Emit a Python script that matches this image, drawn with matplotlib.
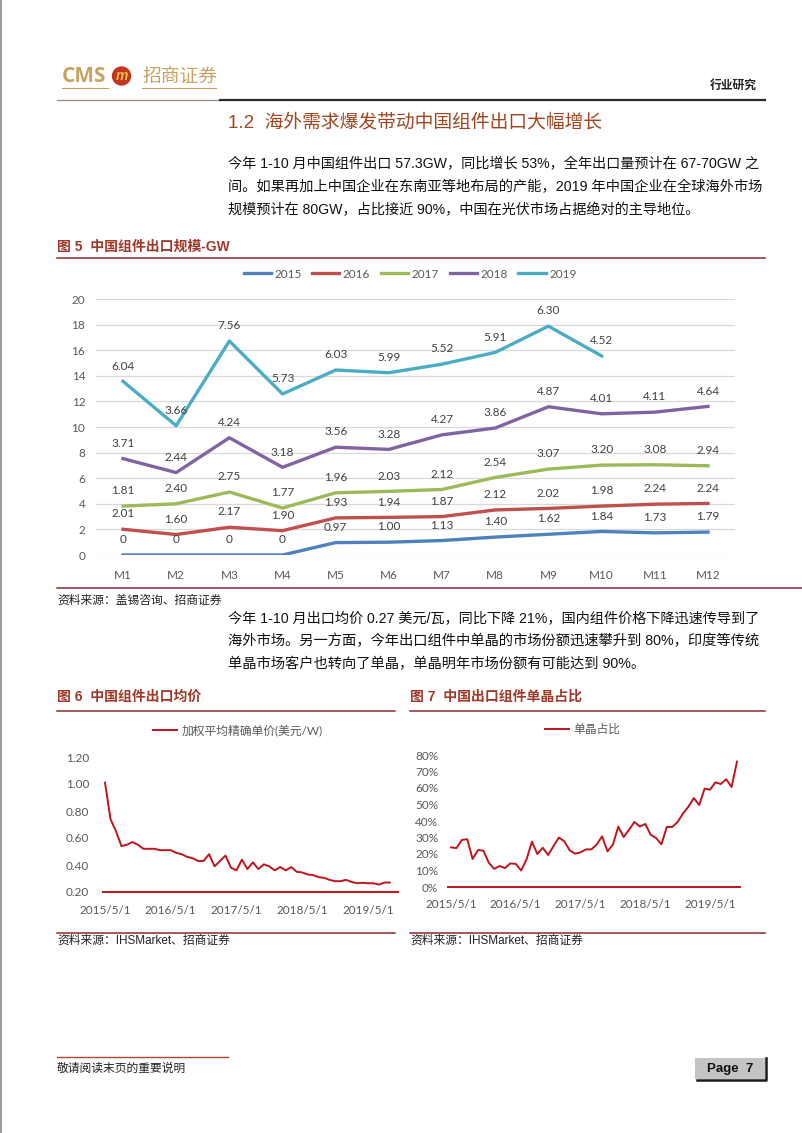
import numpy as np
import pandas as pd
import matplotlib
matplotlib.use('Agg')
import matplotlib.pyplot as plt
from matplotlib.patches import Rectangle, Circle
from matplotlib.lines import Line2D

plt.rcParams['font.family'] = ['Liberation Sans', 'Noto Sans CJK SC']
CHART_FONT = ['Lato', 'Noto Sans CJK SC']

W, H = 802, 1133

# ---- data: figure 5, monthly export (GW), stacked by year
months = ['M1', 'M2', 'M3', 'M4', 'M5', 'M6', 'M7', 'M8', 'M9', 'M10', 'M11', 'M12']
years = ['2015', '2016', '2017', '2018', '2019']
exp_2015 = [0, 0, 0, 0, 0.97, 1.00, 1.13, 1.40, 1.62, 1.84, 1.73, 1.79]
exp_2016 = [2.01, 1.60, 2.17, 1.90, 1.93, 1.94, 1.87, 2.12, 2.02, 1.98, 2.24, 2.24]
exp_2017 = [1.81, 2.40, 2.75, 1.77, 1.96, 2.03, 2.12, 2.54, 3.07, 3.20, 3.08, 2.94]
exp_2018 = [3.71, 2.44, 4.24, 3.18, 3.56, 3.28, 4.27, 3.86, 4.87, 4.01, 4.11, 4.64]
exp_2019 = [6.04, 3.66, 7.56, 5.73, 6.03, 5.99, 5.52, 5.91, 6.30, 4.52]
year_colors = ['#4F81BD', '#C0504D', '#9BBB59', '#8064A2', '#4BACC6']

# ---- data: figure 6, weighted average export price (USD/W), 2015/5 - 2019/9
price = [1.01, 0.74, 0.65, 0.54, 0.55, 0.57, 0.55, 0.52,
         0.52, 0.52, 0.51, 0.51, 0.51, 0.49, 0.48, 0.46, 0.45, 0.43, 0.43, 0.48,
         0.39, 0.43, 0.47, 0.38, 0.36, 0.44, 0.37, 0.42, 0.37, 0.405, 0.39, 0.36,
         0.385, 0.36, 0.385, 0.35, 0.345, 0.33, 0.325, 0.31, 0.305, 0.29, 0.28, 0.28,
         0.29, 0.275, 0.265, 0.268, 0.265, 0.265, 0.255, 0.27, 0.27]
price_start = '2015-05-01'

# ---- data: figure 7, mono-crystalline share (%), 2015/5 - 2019/10
mono_share = [24, 23.6, 28.5, 29, 17, 22.4, 22, 14.7,
              11, 12.7, 11.5, 14.3, 14, 10, 16.8, 27.5, 20, 23.8, 19.4, 24.8,
              30, 27.7, 22.2, 20.2, 21, 22.8, 22.8, 25.7, 30.7, 21.6, 25.7, 36.6,
              30.3, 34.7, 39.4, 36.6, 38.2, 31.7, 29.7, 25.9, 36.4, 36.4, 39.4, 44.6,
              48.7, 53.9, 49.7, 59.6, 59, 63.4, 62.4, 65.3, 60.6, 76]
mono_start = '2015-05-01'

para1 = ['今年 1-10 月中国组件出口 57.3GW，同比增长 53%，全年出口量预计在 67-70GW 之',
         '间。如果再加上中国企业在东南亚等地布局的产能，2019 年中国企业在全球海外市场',
         '规模预计在 80GW，占比接近 90%，中国在光伏市场占据绝对的主导地位。']
para2 = ['今年 1-10 月出口均价 0.27 美元/瓦，同比下降 21%，国内组件价格下降迅速传导到了',
         '海外市场。另一方面，今年出口组件中单晶的市场份额迅速攀升到 80%，印度等传统',
         '单晶市场客户也转向了单晶，单晶明年市场份额有可能达到 90%。']

GOLD = '#C9A262'
CAP = '#A0392A'
RULE = '#8E2A2E'
LINE_RED = '#C0141C'
TICK = '#595959'


def ax_rect(l, t, r, b):
    return [l / W, 1 - b / H, (r - l) / W, (b - t) / H]


fig = plt.figure(figsize=(W / 100, H / 100), dpi=100)
renderer = fig.canvas.get_renderer()
bg = fig.add_axes([0, 0, 1, 1])
bg.set_xlim(0, W)
bg.set_ylim(H, 0)
bg.axis('off')


def paragraph(lines, x0, x1, y0, step, size=10):
    # stretch full lines to the right margin, last line keeps the mean size
    sizes = []
    for i, line in enumerate(lines):
        t = bg.text(x0, y0 + step * i, line, fontsize=size, color='#111111', va='center')
        if i < len(lines) - 1:
            w = t.get_window_extent(renderer).width
            t.set_fontsize(size * (x1 - x0) / w)
            sizes.append(size * (x1 - x0) / w)
        else:
            t.set_fontsize(np.mean(sizes))


# page border and header
bg.plot([0.6, 0.6], [0, H], color='#888888', lw=1.2)
bg.text(62, 77, 'CMS', fontsize=15, color=GOLD, fontweight='bold', va='center', family='Open Sans')
bg.add_patch(Circle((121.5, 76), 9, color='#C4351C'))
bg.text(121.5, 76.5, 'm', fontsize=10, color='#F2C14E', fontweight='bold', style='italic',
        ha='center', va='center')
bg.text(142, 76, '招商证券', fontsize=13.5, color=GOLD, va='center', family='Noto Sans CJK SC')
bg.plot([62, 108], [88, 88], color=GOLD, lw=0.8)
bg.plot([142, 216], [88, 88], color=GOLD, lw=0.8)
bg.text(757, 86, '行业研究', fontsize=8.5, color='#222222', ha='right', va='center', fontweight='bold')
bg.plot([57, 220], [100, 100], color='#9C8C84', lw=0.9)
bg.plot([220, 765], [100, 100], color='#2B2B2B', lw=1.6)

bg.text(228, 123, '1.2  海外需求爆发带动中国组件出口大幅增长', fontsize=13.5, color='#A0461E', va='center')

paragraph(para1, 228, 760, 164, 23)

# figure 5 caption
bg.text(57, 247, '图 5  中国组件出口规模-GW', fontsize=10, color=CAP, fontweight='bold', va='center')
bg.plot([57, 765], [258, 258], color=RULE, lw=1.1)

ax = fig.add_axes(ax_rect(96.4, 299, 734.6, 555))
x = np.arange(len(months))
base = np.zeros(len(months))
handles = []
for yr, vals, col in zip(years, [exp_2015, exp_2016, exp_2017, exp_2018, exp_2019], year_colors):
    v = np.array(vals, dtype=float)
    n = len(v)
    top = base[:n] + v
    ln, = ax.plot(x[:n], top, color=col, lw=2.4, label=yr, solid_joinstyle='round')
    handles.append(ln)
    for xi, yi, val in zip(x[:n], top, v):
        ax.annotate('0' if val == 0 else f'{val:.2f}', (xi, yi), xytext=(0, 11),
                    textcoords='offset points', ha='center', va='center',
                    fontsize=8.5, color='#404040', family=CHART_FONT)
    base[:n] = top
ax.set_xlim(-0.5, len(months) - 0.5)
ax.set_ylim(0, 20)
ax.set_yticks(np.arange(0, 21, 2))
ax.set_xticks(x)
ax.set_xticklabels(months)
ax.grid(axis='y', color='#D9D9D9', lw=0.9)
ax.set_axisbelow(True)
for s in ax.spines.values():
    s.set_visible(False)
ax.tick_params(length=0, labelsize=8.5, colors=TICK)
ax.tick_params(axis='x', pad=11)
ax.tick_params(axis='y', pad=8)
for lab in ax.get_xticklabels() + ax.get_yticklabels():
    lab.set_family(CHART_FONT)
fig.legend(handles=handles, loc='center', bbox_to_anchor=(410 / W, 1 - 274 / H), ncol=5,
           frameon=False, handlelength=2.3, handletextpad=0.3, columnspacing=0.9,
           prop={'family': CHART_FONT, 'size': 8.5}, labelcolor=TICK)

bg.plot([57, W], [588, 588], color=RULE, lw=1.1)
bg.text(57, 601, '资料来源：盖锡咨询、招商证券', fontsize=8.5, color='#222222', va='center')

paragraph(para2, 228, 761, 618, 23)

# figure 6 / 7 captions
bg.text(57, 697, '图 6  中国组件出口均价', fontsize=10, color=CAP, fontweight='bold', va='center')
bg.plot([57, 395], [711, 711], color=RULE, lw=1.1)
bg.text(410, 697, '图 7  中国出口组件单晶占比', fontsize=10, color=CAP, fontweight='bold', va='center')
bg.plot([410, 765], [711, 711], color=RULE, lw=1.1)


def date_ticks(start, n):
    dates = pd.date_range(start, periods=n, freq='MS')
    pos = [i for i, d in enumerate(dates) if d.month == 5]
    labels = [f'{dates[i].year}/{dates[i].month}/{dates[i].day}' for i in pos]
    return pos, labels


def style_small(a, pad_x):
    for s in ['top', 'left', 'right']:
        a.spines[s].set_visible(False)
    a.spines['bottom'].set_color(LINE_RED)
    a.spines['bottom'].set_linewidth(1.4)
    a.tick_params(length=0, labelsize=8.5, colors=TICK)
    a.tick_params(axis='x', pad=pad_x)
    for lab in a.get_xticklabels() + a.get_yticklabels():
        lab.set_family(CHART_FONT)


# figure 6
ax6 = fig.add_axes(ax_rect(103, 757, 398, 892))
i6 = np.arange(len(price))
ax6.plot(i6, price, color=LINE_RED, lw=1.4)
ax6.set_xlim(-0.37, 53.5)
ax6.set_ylim(0.2, 1.2)
ax6.set_yticks(np.arange(0.2, 1.21, 0.2))
ax6.set_yticklabels([f'{t:.2f}' for t in np.arange(0.2, 1.21, 0.2)])
p6, t6 = date_ticks(price_start, len(price))
ax6.set_xticks(p6)
ax6.set_xticklabels(t6)
style_small(ax6, 9)
ax6.tick_params(axis='y', pad=10)
fig.legend(handles=[Line2D([], [], color=LINE_RED, lw=1.4)], labels=['加权平均精确单价(美元/W)'],
           loc='center', bbox_to_anchor=(238 / W, 1 - 730 / H), frameon=False,
           handlelength=2.0, handletextpad=0.4, prop={'family': CHART_FONT, 'size': 8.5},
           labelcolor=TICK)

# figure 7
ax7 = fig.add_axes(ax_rect(448, 755, 740, 887))
i7 = np.arange(len(mono_share))
ax7.plot(i7, mono_share, color=LINE_RED, lw=1.4)
ax7.set_xlim(-0.56, 53.56)
ax7.set_ylim(0, 80)
ax7.set_yticks(np.arange(0, 81, 10))
ax7.set_yticklabels([f'{t}%' for t in range(0, 81, 10)])
p7, t7 = date_ticks(mono_start, len(mono_share))
ax7.set_xticks(p7)
ax7.set_xticklabels(t7)
style_small(ax7, 9)
ax7.tick_params(axis='y', pad=7)
fig.legend(handles=[Line2D([], [], color=LINE_RED, lw=1.4)], labels=['单晶占比'],
           loc='center', bbox_to_anchor=(583 / W, 1 - 729 / H), frameon=False,
           handlelength=2.0, handletextpad=0.4, prop={'family': CHART_FONT, 'size': 8.5},
           labelcolor=TICK)

bg.plot([57, 395], [933, 933], color=RULE, lw=1.1)
bg.text(57, 941, '资料来源：IHSMarket、招商证券', fontsize=8.5, color='#222222', va='center')
bg.plot([410, 765], [933, 933], color=RULE, lw=1.1)
bg.text(410, 941, '资料来源：IHSMarket、招商证券', fontsize=8.5, color='#222222', va='center')

# footer
bg.plot([57, 228], [1057, 1057], color='#B0452A', lw=1.0)
bg.text(57, 1069, '敬请阅读末页的重要说明', fontsize=8.5, color='#222222', va='center')
bg.add_patch(Rectangle((695, 1058), 70, 21, facecolor='#C4C4C4', edgecolor='none'))
bg.plot([766, 766, 697], [1058, 1080, 1080], color='#1A1A1A', lw=1.8)
bg.text(730, 1069, 'Page  7', fontsize=9.5, fontweight='bold', ha='center', va='center', color='#111111')

fig.savefig('out.png', dpi=100)
